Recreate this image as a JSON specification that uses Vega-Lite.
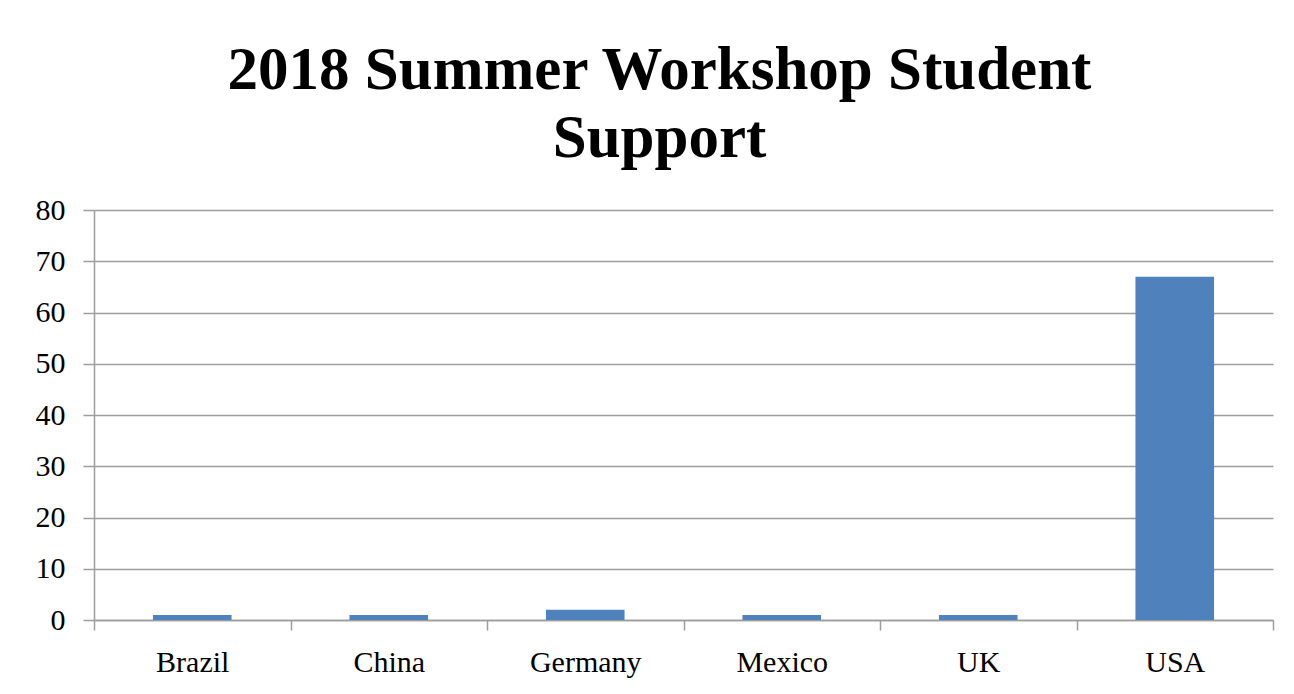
{
  "$schema": "https://vega.github.io/schema/vega-lite/v6.json",
  "width": 1179,
  "height": 410,
  "autosize": {"type": "none"},
  "padding": {"left": 94, "top": 210, "right": 21, "bottom": 74},
  "background": "white",
  "title": {
    "text": ["2018 Summer Workshop Student", "Support"],
    "font": "Liberation Serif",
    "fontSize": 61,
    "fontWeight": "bold",
    "lineHeight": 68,
    "color": "#000000",
    "anchor": "middle",
    "dx": -24,
    "offset": 25
  },
  "data": {
    "values": [
      {"country": "Brazil", "students": 1},
      {"country": "China", "students": 1},
      {"country": "Germany", "students": 2},
      {"country": "Mexico", "students": 1},
      {"country": "UK", "students": 1},
      {"country": "USA", "students": 67}
    ]
  },
  "mark": {"type": "bar", "color": "#4F81BD", "width": {"band": 0.4}},
  "encoding": {
    "x": {
      "field": "country",
      "type": "nominal",
      "sort": null,
      "scale": {"paddingInner": 0, "paddingOuter": 0},
      "axis": {
        "title": null,
        "labelAngle": 0,
        "labelFont": "Liberation Serif",
        "labelFontSize": 30,
        "labelColor": "#000000",
        "labelPadding": 17,
        "tickBand": "extent",
        "tickSize": 10,
        "tickColor": "#9d9d9d",
        "tickWidth": 1.5,
        "domainColor": "#9d9d9d",
        "domainWidth": 1.5,
        "grid": false
      }
    },
    "y": {
      "field": "students",
      "type": "quantitative",
      "scale": {"domain": [0, 80], "nice": false},
      "axis": {
        "title": null,
        "values": [0, 10, 20, 30, 40, 50, 60, 70, 80],
        "labelFont": "Liberation Serif",
        "labelFontSize": 30,
        "labelColor": "#000000",
        "labelPadding": 18,
        "tickSize": 11,
        "tickColor": "#9d9d9d",
        "tickWidth": 1.5,
        "domainColor": "#9d9d9d",
        "domainWidth": 1.5,
        "grid": true,
        "gridColor": "#9d9d9d",
        "gridWidth": 1.5
      }
    }
  },
  "config": {"view": {"stroke": null}}
}
